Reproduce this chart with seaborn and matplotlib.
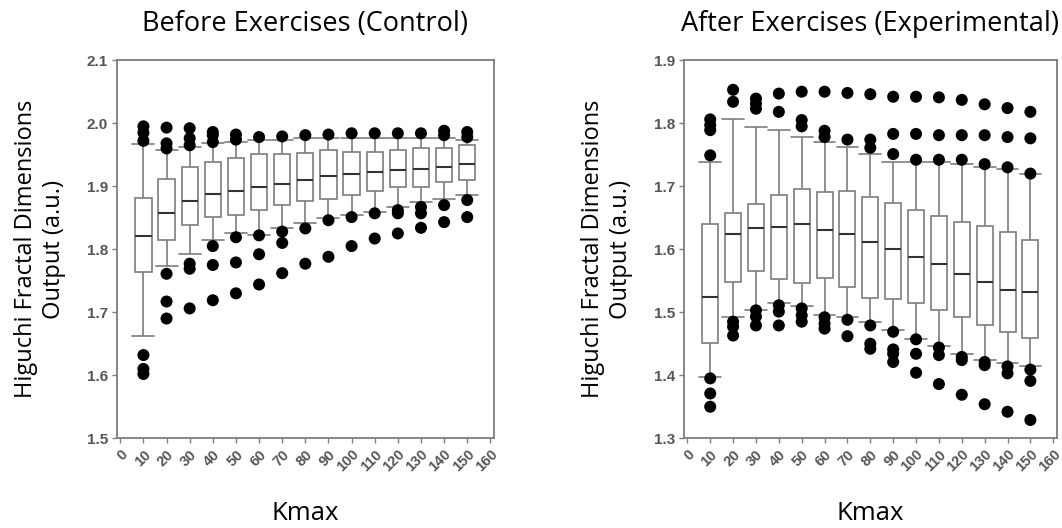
import numpy as np
import pandas as pd
import seaborn as sns
import matplotlib.pyplot as plt

# Kmax values for the boxes
kmax = [10, 20, 30, 40, 50, 60, 70, 80, 90, 100, 110, 120, 130, 140, 150]

# Before exercises (control): whisker ends, quartiles, medians
ctrl_low = [1.663, 1.773, 1.792, 1.815, 1.825, 1.823, 1.833, 1.841, 1.849, 1.854, 1.859, 1.867, 1.875, 1.879, 1.886]
ctrl_q1 = [1.764, 1.815, 1.838, 1.851, 1.855, 1.863, 1.870, 1.876, 1.880, 1.886, 1.893, 1.898, 1.898, 1.907, 1.910]
ctrl_med = [1.821, 1.858, 1.876, 1.887, 1.892, 1.898, 1.903, 1.910, 1.916, 1.919, 1.923, 1.926, 1.927, 1.931, 1.935]
ctrl_q3 = [1.882, 1.911, 1.931, 1.939, 1.945, 1.951, 1.951, 1.953, 1.958, 1.955, 1.955, 1.958, 1.960, 1.960, 1.965]
ctrl_high = [1.967, 1.958, 1.962, 1.968, 1.970, 1.974, 1.974, 1.976, 1.976, 1.976, 1.976, 1.976, 1.976, 1.976, 1.974]
ctrl_out = [
    [1.995, 1.985, 1.972, 1.632, 1.610, 1.602],
    [1.993, 1.968, 1.960, 1.761, 1.717, 1.690],
    [1.992, 1.976, 1.965, 1.777, 1.769, 1.706],
    [1.986, 1.981, 1.970, 1.805, 1.775, 1.719],
    [1.982, 1.974, 1.819, 1.779, 1.730],
    [1.978, 1.822, 1.792, 1.744],
    [1.979, 1.828, 1.810, 1.762],
    [1.981, 1.833, 1.777],
    [1.982, 1.846, 1.788],
    [1.984, 1.851, 1.805],
    [1.984, 1.857, 1.817],
    [1.984, 1.862, 1.857, 1.825],
    [1.984, 1.867, 1.857, 1.834],
    [1.988, 1.981, 1.870, 1.843],
    [1.986, 1.978, 1.878, 1.851],
]

# After exercises (experimental)
exp_low = [1.397, 1.493, 1.504, 1.514, 1.510, 1.495, 1.493, 1.485, 1.471, 1.458, 1.446, 1.434, 1.424, 1.419, 1.414]
exp_q1 = [1.451, 1.548, 1.566, 1.553, 1.547, 1.555, 1.540, 1.523, 1.521, 1.515, 1.504, 1.492, 1.479, 1.469, 1.459]
exp_med = [1.524, 1.624, 1.634, 1.635, 1.640, 1.631, 1.624, 1.612, 1.600, 1.588, 1.576, 1.560, 1.548, 1.536, 1.532]
exp_q3 = [1.640, 1.657, 1.672, 1.686, 1.695, 1.691, 1.692, 1.683, 1.674, 1.663, 1.652, 1.643, 1.637, 1.628, 1.615]
exp_high = [1.739, 1.806, 1.794, 1.790, 1.778, 1.770, 1.763, 1.751, 1.739, 1.739, 1.739, 1.736, 1.731, 1.728, 1.719]
exp_out = [
    [1.806, 1.797, 1.789, 1.749, 1.395, 1.371, 1.350],
    [1.853, 1.834, 1.485, 1.477, 1.463],
    [1.839, 1.831, 1.823, 1.503, 1.493, 1.479],
    [1.847, 1.818, 1.511, 1.501, 1.479],
    [1.850, 1.805, 1.795, 1.506, 1.495, 1.485],
    [1.850, 1.788, 1.778, 1.492, 1.482, 1.474],
    [1.848, 1.774, 1.488, 1.462],
    [1.846, 1.774, 1.761, 1.479, 1.450, 1.442],
    [1.842, 1.783, 1.751, 1.469, 1.441, 1.434, 1.421],
    [1.842, 1.783, 1.742, 1.457, 1.434, 1.404],
    [1.841, 1.781, 1.742, 1.444, 1.432, 1.386],
    [1.837, 1.781, 1.742, 1.429, 1.424, 1.369],
    [1.830, 1.781, 1.735, 1.421, 1.416, 1.354],
    [1.824, 1.778, 1.730, 1.414, 1.403, 1.342],
    [1.818, 1.776, 1.720, 1.409, 1.391, 1.329],
]

xtick_values = list(range(0, 161, 10))

sns.set_style("ticks")
plt.rcParams['font.family'] = ['Open Sans', 'DejaVu Sans']

GREY = "#7d7d7d"
TICKGREY = "#555555"


# 5 points per Kmax -> whis=(0, 100) gives exactly the whiskers/quartiles above
def box_frame(low, q1, med, q3, high):
    rows = []
    for k, vals in zip(kmax, zip(low, q1, med, q3, high)):
        for v in vals:
            rows.append((k, v))
    return pd.DataFrame(rows, columns=["Kmax", "HFD"])


def outlier_frame(outs):
    rows = [(k, v) for k, vals in zip(kmax, outs) for v in vals]
    return pd.DataFrame(rows, columns=["Kmax", "HFD"])


def draw_panel(ax, boxes, outs, ylim, title):
    sns.boxplot(data=boxes, x="Kmax", y="HFD", native_scale=True, whis=(0, 100),
                width=0.7, showfliers=False, color="white", linecolor=GREY,
                linewidth=1.2, medianprops=dict(color="#333333", linewidth=1.5),
                capwidths=9.5, ax=ax)
    sns.scatterplot(data=outs, x="Kmax", y="HFD", color="black", s=75,
                    edgecolor="none", legend=False, zorder=3, ax=ax)
    ax.set_xlim(-1.5, 161.5)
    ax.set_ylim(*ylim)
    ax.set_xticks(xtick_values)
    ax.set_xticklabels([str(v) for v in xtick_values], rotation=45, ha="right",
                       rotation_mode="anchor", fontsize=10.5, color=TICKGREY,
                       family="Liberation Sans", fontweight="bold")
    yt = np.round(np.arange(ylim[0], ylim[1] + 0.01, 0.1), 1)
    ax.set_yticks(yt)
    ax.set_yticklabels(["%.1f" % v for v in yt], fontsize=11, color=TICKGREY,
                       family="Liberation Sans", fontweight="bold")
    for sp in ax.spines.values():
        sp.set_visible(True)
        sp.set_color(GREY)
        sp.set_linewidth(1.3)
    ax.tick_params(axis="both", direction="out", length=3.5, width=1.0, color=GREY, pad=3)
    ax.set_title(title, fontsize=19.5, pad=21, color="black")
    ax.set_ylabel("Higuchi Fractal Dimensions\nOutput (a.u.)", fontsize=17, labelpad=15,
                  linespacing=1.2, color="black")
    ax.set_xlabel("Kmax", fontsize=18.5, labelpad=19, color="black")


fig = plt.figure(figsize=(10.62, 5.28), dpi=100)
ax1 = fig.add_axes([0.110, 0.170, 0.355, 0.716])
ax2 = fig.add_axes([0.644, 0.170, 0.351, 0.716])

draw_panel(ax1, box_frame(ctrl_low, ctrl_q1, ctrl_med, ctrl_q3, ctrl_high),
           outlier_frame(ctrl_out), (1.5, 2.1), "Before Exercises (Control)")
draw_panel(ax2, box_frame(exp_low, exp_q1, exp_med, exp_q3, exp_high),
           outlier_frame(exp_out), (1.3, 1.9), "After Exercises (Experimental)")

fig.savefig("out.png", dpi=100)
